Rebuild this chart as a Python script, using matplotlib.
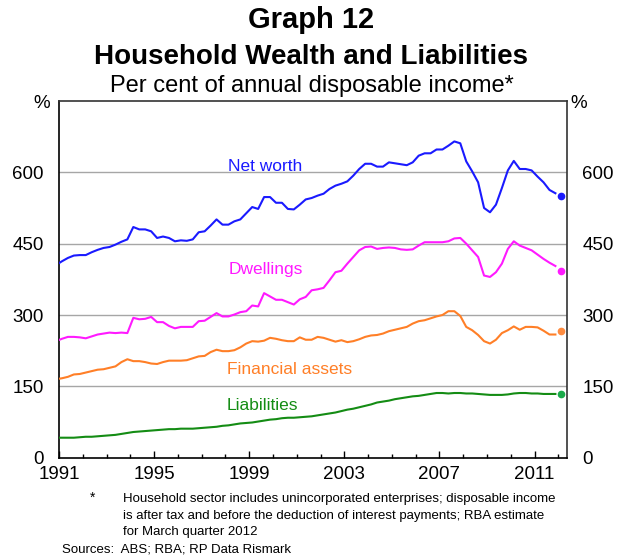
import numpy as np
import matplotlib
matplotlib.use("Agg")
import matplotlib.pyplot as plt
from matplotlib.ticker import MultipleLocator

plt.rcParams['font.family'] = ['Liberation Sans', 'DejaVu Sans']

# quarterly observations, Dec 1990 quarter to Dec 2011 quarter (per cent of income)
net_worth = [405,
             413, 420, 425, 426, 426, 432, 437, 441, 443, 448, 454, 459,
             485, 480, 480, 476, 462, 465, 462, 455, 457, 456, 459, 474,
             476, 488, 501, 490, 490, 497, 501, 514, 527, 523, 548, 548,
             536, 536, 523, 522, 532, 543, 546, 551, 555, 565, 572, 576,
             581, 593, 607, 618, 618, 612, 612, 621, 619, 617, 615, 621,
             635, 640, 640, 648, 648, 656, 665, 661, 623, 602, 579, 525,
             516, 532, 567, 604, 624, 607, 607, 604, 591, 579, 563, 556]
dwellings = [245,
             250, 254, 254, 253, 251, 255, 259, 261, 263, 262, 263, 262,
             294, 291, 292, 296, 285, 285, 277, 272, 275, 275, 275, 287,
             288, 296, 304, 297, 297, 301, 306, 308, 320, 318, 346, 339,
             332, 332, 327, 322, 333, 338, 352, 354, 357, 373, 390, 393,
             408, 422, 436, 443, 444, 439, 441, 442, 441, 438, 437, 438,
             446, 453, 453, 453, 453, 455, 461, 462, 450, 436, 422, 383,
             380, 390, 408, 439, 455, 446, 441, 436, 427, 418, 410, 403]
financial = [165,
             167, 170, 175, 176, 179, 182, 185, 186, 189, 192, 201, 207,
             203, 203, 201, 198, 197, 201, 204, 204, 204, 205, 209, 213,
             214, 222, 227, 224, 224, 226, 232, 240, 245, 244, 246, 252,
             250, 247, 245, 245, 253, 248, 248, 254, 252, 248, 244, 247,
             243, 245, 249, 254, 257, 258, 261, 266, 269, 272, 275, 282,
             287, 289, 293, 297, 300, 308, 308, 298, 275, 268, 258, 245,
             240, 248, 262, 268, 276, 269, 275, 275, 274, 267, 259, 259]
liabilities = [42,
               42, 42, 42, 43, 44, 44, 45, 46, 47, 48, 50, 52,
               54, 55, 56, 57, 58, 59, 60, 60, 61, 61, 61, 62,
               63, 64, 65, 67, 68, 70, 72, 73, 74, 76, 78, 80,
               81, 83, 84, 84, 85, 86, 87, 89, 91, 93, 95, 98,
               101, 103, 106, 109, 112, 116, 118, 120, 123, 125, 127, 129,
               130, 132, 134, 136, 136, 135, 136, 136, 135, 135, 134, 133,
               132, 132, 132, 133, 135, 136, 136, 135, 135, 134, 134, 134]

# RBA estimates for the March quarter 2012
estimates = {"net_worth": 551, "dwellings": 392, "financial": 266, "liabilities": 133}

# quarters plotted at mid-quarter
t = 1990.875 + 0.25 * np.arange(len(net_worth))
t_est = 2012.125

series = [
    (net_worth, estimates["net_worth"], "#1a1aff", "#1a1aff", "Net worth", 265, 612),
    (dwellings, estimates["dwellings"], "#ff1aff", "#ff1aff", "Dwellings", 266, 395),
    (financial, estimates["financial"], "#ff7f27", "#ff8c40", "Financial assets", 289, 186),
    (liabilities, estimates["liabilities"], "#148c14", "#1aaa4a", "Liabilities", 262, 110),
]

fig = plt.figure(figsize=(6.23, 5.57), dpi=100)
ax = fig.add_axes([0.0947, 0.1783, 0.8157, 0.6404])

for yv in [150, 300, 450, 600]:
    ax.axhline(yv, color="#a6a6a6", lw=1.0, zorder=1)

for vals, est, col, dotcol, label, lx, ly in series:
    ax.plot(t, vals, color=col, lw=1.5, zorder=3)
    ax.plot([t_est], [est], "o", color=dotcol, ms=4.5, zorder=4)
    ax.text(1991 + (lx - 59) / 23.75, ly, label, color=col, fontsize=12.5,
            ha="center", va="center")

ax.set_xlim(1991, 2012.37)
ax.set_ylim(0, 750)

ax.set_yticks([0, 150, 300, 450, 600])
ax.tick_params(axis="y", length=0, labelsize=13.5, pad=11,
               left=False, right=False, labelleft=True, labelright=True)

ax.set_xticks(range(1991, 2012, 4))
ax.xaxis.set_minor_locator(MultipleLocator(1))
ax.tick_params(axis="x", which="major", direction="in", length=5, width=1,
               labelsize=13.5, pad=6)
ax.tick_params(axis="x", which="minor", direction="in", length=3, width=1)

for sp in ax.spines.values():
    sp.set_linewidth(1.2)
    sp.set_color("#333333")
ax.spines["left"].set_color("#000000")
ax.spines["bottom"].set_color("#000000")

fig.text(0.5, 1 - 20 / 557, "Graph 12", ha="center", va="center",
         fontsize=21, fontweight="bold")
fig.text(0.5, 1 - 57 / 557, "Household Wealth and Liabilities", ha="center",
         va="center", fontsize=20, fontweight="bold")
fig.text(0.5, 1 - 86 / 557, "Per cent of annual disposable income*",
         ha="center", va="center", fontsize=17)
fig.text(42 / 623, 1 - 104 / 557, "%", ha="center", va="center", fontsize=13.5)
fig.text(579 / 623, 1 - 104 / 557, "%", ha="center", va="center", fontsize=13.5)

notes = ["Household sector includes unincorporated enterprises; disposable income",
         "is after tax and before the deduction of interest payments; RBA estimate",
         "for March quarter 2012"]
fig.text(90 / 623, 1 - 498 / 557, "*", ha="left", va="center", fontsize=10)
for i, line in enumerate(notes):
    fig.text(123 / 623, 1 - (499 + 16.5 * i) / 557, line, ha="left",
             va="center", fontsize=9.5)
fig.text(62 / 623, 1 - 549 / 557, "Sources:  ABS; RBA; RP Data Rismark",
         ha="left", va="center", fontsize=9.5)

fig.savefig("out.png", dpi=100)
